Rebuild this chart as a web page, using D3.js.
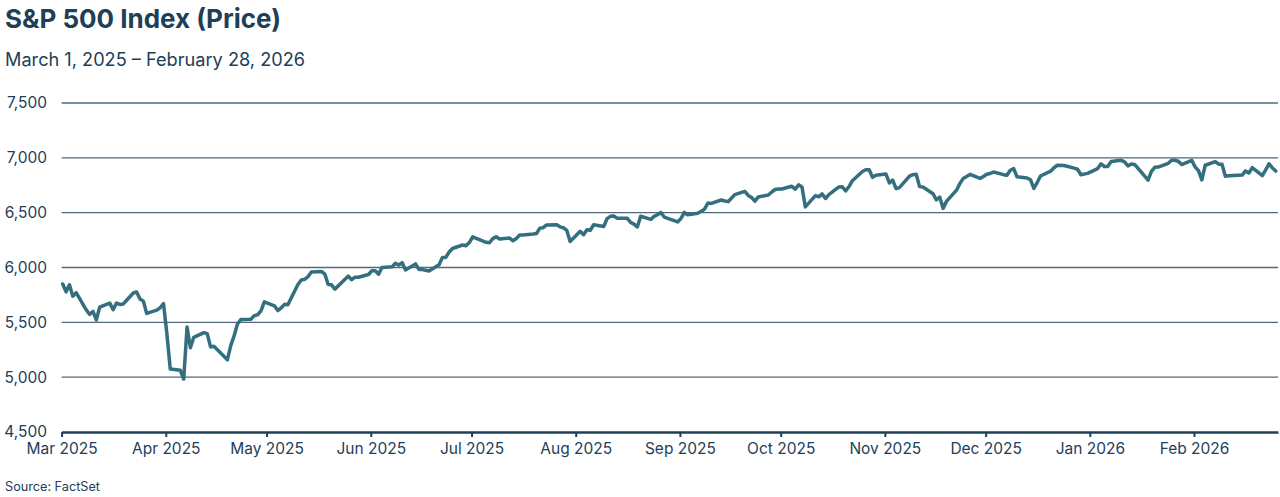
<!DOCTYPE html>
<html>
<head>
<meta charset="utf-8">
<script src="https://cdn.jsdelivr.net/npm/d3@7"></script>
<style>
  html, body { margin: 0; padding: 0; background: #ffffff; }
  svg { display: block; }
  text { font-family: Inter, "Open Sans", sans-serif; }
</style>
</head>
<body>
<svg id="chart" width="1280" height="497"></svg>
<script>
// ---------------- DATA ----------------
const titleText = "S&P 500 Index (Price)";
const subtitleText = "March 1, 2025 \u2013 February 28, 2026";
const sourceText = "Source: FactSet";

const yTicks = [4500, 5000, 5500, 6000, 6500, 7000, 7500];
const monthKeys = ["2025-03","2025-04","2025-05","2025-06","2025-07","2025-08",
                   "2025-09","2025-10","2025-11","2025-12","2026-01","2026-02"];
const marketHolidays = ["2025-04-18","2025-05-26","2025-06-19","2025-07-04","2025-09-01",
                        "2025-11-27","2025-12-25","2026-01-01","2026-01-19","2026-02-16"];

const mar2025 = [5849.72,5778.15,5842.63,5738.52,5770.20,5614.56,5572.07,5599.30,5521.52,5638.94,
                 5675.12,5614.66,5675.29,5662.89,5667.56,5767.57,5776.65,5712.20,5693.31,5580.94,5611.85];
const apr2025 = [5633.07,5670.97,5396.52,5074.08,5062.25,4982.77,5456.90,5268.05,5363.36,5405.97,
                 5396.63,5275.70,5282.70,5158.20,5287.76,5375.86,5484.77,5525.21,5528.75,5560.83,5569.06];
const may2025 = [5604.14,5686.67,5650.38,5606.91,5631.28,5663.94,5659.91,5844.19,5886.55,5892.58,
                 5916.93,5958.38,5963.60,5940.46,5844.61,5842.01,5802.82,5921.54,5888.55,5912.17,5911.69];
const jun2025 = [5935.94,5970.37,5970.81,5939.30,6000.36,6005.88,6038.81,6022.24,6045.26,5976.97,
                 6033.11,5982.72,5980.87,5967.84,6025.17,6092.18,6092.16,6141.02,6173.07,6204.95];
const jul2025 = [6198.01,6227.42,6279.35,6229.98,6225.52,6263.26,6280.46,6259.75,6268.56,6243.76,
                 6263.70,6297.36,6296.79,6305.60,6309.62,6358.91,6363.35,6388.64,6389.77,6370.86,6362.90,6339.39];
const aug2025 = [6238.01,6329.94,6299.19,6345.06,6340.00,6389.45,6373.45,6445.76,6466.58,6468.54,
                 6449.80,6449.15,6411.37,6395.78,6370.17,6466.91,6439.32,6465.94,6481.40,6501.86,6460.26];
const sep2025 = [6415.54,6448.26,6502.08,6481.50,6495.15,6512.61,6532.04,6587.47,6584.29,6615.28,
                 6606.76,6600.35,6631.96,6664.36,6693.75,6656.92,6637.97,6604.72,6643.70,6661.21,6688.46];
const oct2025 = [6711.20,6715.35,6715.79,6740.28,6714.59,6753.72,6735.11,6552.51,6654.72,6644.31,
                 6671.06,6629.07,6664.01,6735.13,6735.35,6699.40,6738.44,6791.69,6875.16,6890.89,
                 6890.59,6822.34,6840.20];
const nov2025 = [6851.97,6771.55,6796.29,6720.32,6728.80,6832.43,6846.61,6850.92,6737.49,6734.11,
                 6672.41,6617.32,6642.16,6538.76,6602.99,6705.12,6765.88,6812.61,6849.09];
const dec2025 = [6812.63,6829.37,6849.72,6857.12,6870.40,6846.51,6840.51,6886.68,6901.00,6827.41,
                 6816.51,6800.26,6721.43,6774.76,6834.50,6878.49,6909.79,6932.05,6929.94,6905.74,
                 6896.24,6845.50];
const jan2026 = [6858.47,6902.05,6944.82,6920.93,6921.46,6966.28,6977.27,6963.74,6926.60,6944.47,
                 6940.01,6796.86,6875.62,6913.35,6915.61,6950.23,6978.60,6978.03,6969.01,6939.03];
const feb2026 = [6976.44,6917.81,6882.72,6798.40,6932.30,6964.82,6941.81,6941.47,6832.76,6836,
                 6843,6881,6862,6910,6838,6890,6946,6908,6879];

const monthValues = [mar2025, apr2025, may2025, jun2025, jul2025, aug2025,
                     sep2025, oct2025, nov2025, dec2025, jan2026, feb2026];

// ---------------- BUILD SERIES ----------------
const parseDay = d3.utcParse("%Y-%m-%d");
const parseMonth = d3.utcParse("%Y-%m");
const fmtDay = d3.utcFormat("%Y-%m-%d");
const holidaySet = new Set(marketHolidays);

const series = [];
monthKeys.forEach((mk, i) => {
  const start = parseMonth(mk);
  const end = d3.utcMonth.offset(start, 1);
  const days = d3.utcDays(start, end).filter(d => {
    const wd = d.getUTCDay();
    return wd !== 0 && wd !== 6 && !holidaySet.has(fmtDay(d));
  });
  const vals = monthValues[i];
  if (days.length !== vals.length) console.warn(mk, days.length, vals.length);
  vals.forEach((v, j) => series.push({ date: days[j], value: v }));
});

// ---------------- CHART ----------------
const svg = d3.select("#chart");
const W = 1280, H = 497;
const plotLeft = 61.6, plotRight = 1278, plotTop = 103, plotBottom = 432;

const x = d3.scaleUtc()
  .domain([parseDay("2025-03-01"), parseDay("2026-02-26")])
  .range([plotLeft, plotRight]);
const y = d3.scaleLinear()
  .domain([d3.min(yTicks), d3.max(yTicks)])
  .range([plotBottom, plotTop]);

const ink = "#1d4058";
const gridColor = "#4f687a";
const lineColor = "#336f7f";

svg.append("rect").attr("width", W).attr("height", H).attr("fill", "#ffffff");

// Title & subtitle
function fit(sel, target) {
  const w = sel.node().getComputedTextLength();
  const fs = parseFloat(sel.attr("font-size"));
  sel.attr("font-size", (fs * target / w).toFixed(2));
}
const title = svg.append("text")
  .attr("x", 5).attr("y", 28)
  .attr("font-size", 24).attr("font-weight", 700)
  .attr("fill", ink).text(titleText);
fit(title, 276);

const subtitle = svg.append("text")
  .attr("x", 5).attr("y", 66)
  .attr("font-size", 17).attr("font-weight", 400)
  .attr("fill", ink).text(subtitleText);
fit(subtitle, 300);

// Gridlines + y labels
const yAxis = d3.axisLeft(y).tickValues(yTicks).tickFormat(d3.format(",")).tickSize(0).tickPadding(0);
const yG = svg.append("g").attr("transform", `translate(47,0)`).call(yAxis);
yG.select(".domain").remove();
yG.selectAll("text")
  .attr("font-size", 15.5).attr("fill", ink)
  .attr("font-family", "Inter, sans-serif");

svg.append("g").selectAll("line")
  .data(yTicks.filter(v => v !== d3.min(yTicks)))
  .join("line")
  .attr("x1", plotLeft).attr("x2", plotRight)
  .attr("y1", d => y(d)).attr("y2", d => y(d))
  .attr("stroke", gridColor).attr("stroke-width", 1.4);

// X axis
const xAxis = d3.axisBottom(x)
  .ticks(d3.utcMonth.every(1))
  .tickFormat(d3.utcFormat("%b %Y"))
  .tickSize(5).tickPadding(6).tickSizeOuter(0);
const xG = svg.append("g").attr("transform", `translate(0,${plotBottom})`).call(xAxis);
xG.select(".domain").attr("stroke", ink).attr("stroke-width", 2.6);
xG.selectAll(".tick line").attr("stroke", ink).attr("stroke-width", 2);
xG.selectAll("text")
  .attr("font-size", 15.5).attr("fill", ink)
  .attr("font-family", "Inter, sans-serif");

// Line (points sit ~40h before the calendar tick in the reference)
const line = d3.line()
  .x(d => x(d3.utcHour.offset(d.date, -40)))
  .y(d => y(d.value))
  .curve(d3.curveLinear);
svg.append("path")
  .datum(series)
  .attr("d", line)
  .attr("fill", "none")
  .attr("stroke", lineColor)
  .attr("stroke-width", 3.5)
  .attr("stroke-linejoin", "round")
  .attr("stroke-linecap", "round");

// Source
const src = svg.append("text")
  .attr("x", 5).attr("y", 491)
  .attr("font-size", 12).attr("fill", ink).text(sourceText);
fit(src, 95);
</script>
</body>
</html>
